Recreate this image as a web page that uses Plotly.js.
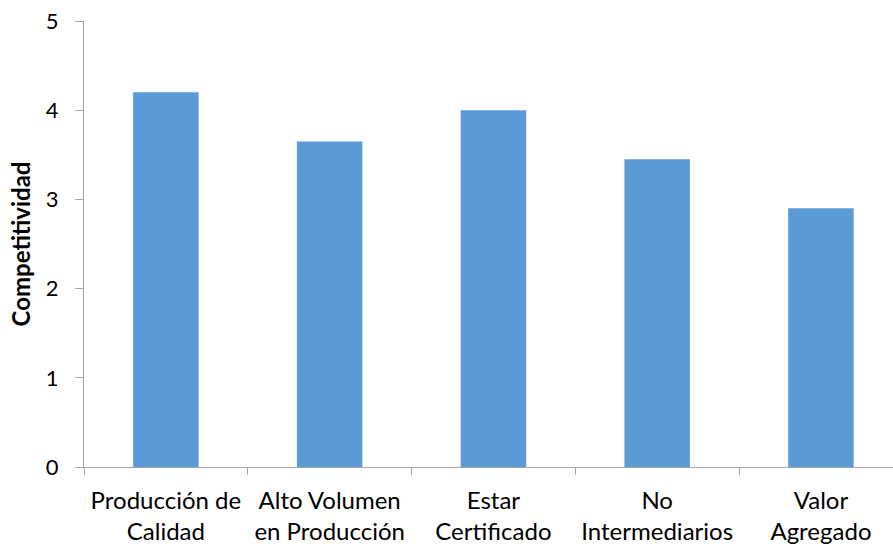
<!DOCTYPE html>
<html>
<head>
<meta charset="utf-8">
<script src="https://cdn.plot.ly/plotly-3.0.1.min.js"></script>
<style>
  html, body { margin: 0; padding: 0; background: #fff; }
  #chart { width: 893px; height: 549px; }
</style>
</head>
<body>
<div id="chart"></div>
<script>
// Competitiveness score by factor
const categories = [
  "Producción de<br>Calidad",
  "Alto Volumen<br>en Producción",
  "Estar<br>Certificado",
  "No<br>Intermediarios",
  "Valor<br>Agregado"
];
const competitividad = [4.2, 3.65, 4.0, 3.45, 2.9];
const yTicks = [0, 1, 2, 3, 4, 5];

const axisGray = "#a6a6a6";
const fontFamily = "Lato, 'Open Sans', sans-serif";

const trace = {
  type: "bar",
  x: categories,
  y: competitividad,
  marker: { color: "#5b9bd5" },
  hoverinfo: "x+y"
};

const layout = {
  width: 893,
  height: 549,
  margin: { l: 84, r: 0, t: 21, b: 82, autoexpand: false },
  paper_bgcolor: "#fff",
  plot_bgcolor: "#fff",
  showlegend: false,
  bargap: 0.6,
  font: { family: fontFamily, color: "#000", size: 22 },
  xaxis: {
    type: "category",
    range: [-0.5, 4.44],
    tickson: "boundaries",
    ticks: "outside",
    ticklen: 7,
    tickcolor: axisGray,
    showline: true,
    linecolor: axisGray,
    linewidth: 1,
    showgrid: false,
    automargin: false,
    ticklabelstandoff: 12,
    tickfont: { family: fontFamily, size: 24, color: "#000" }
  },
  yaxis: {
    range: [0, 5],
    tickvals: yTicks,
    ticktext: yTicks.map(String),
    ticks: "outside",
    ticklen: 8,
    tickcolor: axisGray,
    showline: true,
    linecolor: axisGray,
    linewidth: 1,
    showgrid: false,
    zeroline: false,
    automargin: false,
    ticklabelstandoff: 12,
    tickfont: { family: fontFamily, size: 22, color: "#000" },
    title: {
      text: "<b>Competitividad</b>",
      font: { family: fontFamily, size: 24, color: "#000" },
      standoff: 8
    }
  },
  // inner half of the crossing tick marks on the value axis
  yaxis2: {
    overlaying: "y",
    anchor: "x",
    side: "left",
    range: [0, 5],
    tickvals: yTicks,
    ticks: "inside",
    ticklen: 8,
    tickcolor: axisGray,
    showticklabels: false,
    showline: false,
    showgrid: false,
    zeroline: false
  }
};

Plotly.newPlot("chart", [trace], layout, { displayModeBar: false, staticPlot: true });
</script>
</body>
</html>
